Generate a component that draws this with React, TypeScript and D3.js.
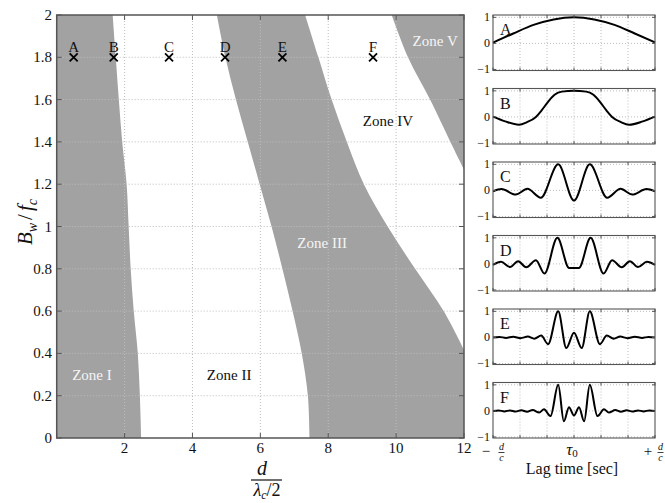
import React from 'react';
import * as d3 from 'd3';

// ---------- main chart data ----------
const bandwidthLevels = [0, 0.2, 0.4, 0.6, 0.8, 1.0, 1.2, 1.4, 1.6, 1.8, 2.0];
const zone1Edge = [2.49, 2.45, 2.39, 2.27, 2.18, 2.12, 2.06, 1.93, 1.83, 1.74, 1.65];
const zone3LeftEdge = [7.45, 7.4, 7.22, 6.95, 6.65, 6.33, 5.98, 5.63, 5.28, 4.97, 4.72];
const zone3RightB = [0.416, 0.6, 0.8, 1.0, 1.2, 1.4, 1.6, 1.8, 2.0];
const zone3RightEdge = [12, 11.4, 10.56, 9.75, 9.05, 8.55, 8.1, 7.71, 7.32];
const zone5B = [1.27, 1.4, 1.6, 1.8, 2.0];
const zone5Edge = [12, 11.6, 11.0, 10.35, 9.87];

const markerLabels = ['A', 'B', 'C', 'D', 'E', 'F'];
const markerD = [0.5, 1.68, 3.31, 4.96, 6.65, 9.32];
const markerB = 1.8;

const zoneNames = ['Zone I', 'Zone II', 'Zone III', 'Zone IV', 'Zone V'];
const zoneNameD = [1.04, 5.08, 7.82, 9.76, 11.15];
const zoneNameB = [0.274, 0.274, 0.898, 1.475, 1.853];
const zoneNameOnGray = [true, false, true, false, true];

const xTickValues = [0, 2, 4, 6, 8, 10, 12];
const xTickLabels = ['', '2', '4', '6', '8', '10', '12'];
const yTickValues = [0, 0.2, 0.4, 0.6, 0.8, 1.0, 1.2, 1.4, 1.6, 1.8, 2.0];
const yTickLabels = ['0', '0.2', '0.4', '0.6', '0.8', '1', '1.2', '1.4', '1.6', '1.8', '2'];

// ---------- correlation panels data (lag t in [-1,1], extrema) ----------
const corrA: [number, number][] = [
  [-1, 0.03], [-0.75, 0.38], [-0.5, 0.71], [-0.25, 0.92], [0, 1], [0.25, 0.92], [0.5, 0.71], [0.75, 0.38], [1, 0.04],
];
const corrB: [number, number][] = [
  [-1, 0.01], [-0.85, -0.17], [-0.68, -0.3], [-0.58, -0.2], [-0.47, 0], [-0.4, 0.25], [-0.32, 0.58], [-0.24, 0.85],
  [-0.15, 0.97], [0, 1.0], [0.15, 0.97], [0.24, 0.85], [0.32, 0.58], [0.4, 0.25], [0.47, 0], [0.58, -0.2],
  [0.68, -0.3], [0.85, -0.17], [1, 0.01],
];
const corrC: [number, number][] = [
  [-1, -0.04], [-0.895, 0.05], [-0.72, -0.16], [-0.575, 0.06], [-0.41, -0.28], [-0.195, 1.0], [0, -0.39],
  [0.195, 1.0], [0.41, -0.28], [0.575, 0.06], [0.72, -0.16], [0.895, 0.05], [1, -0.04],
];
const corrD: [number, number][] = [
  [-1, -0.04], [-0.9, 0.08], [-0.79, -0.12], [-0.69, 0.1], [-0.59, -0.13], [-0.47, 0.14], [-0.365, -0.37],
  [-0.205, 1.0], [-0.06, -0.16], [0, -0.16], [0.06, -0.16], [0.205, 1.0], [0.365, -0.37], [0.47, 0.14],
  [0.59, -0.13], [0.69, 0.1], [0.79, -0.12], [0.9, 0.08], [1, -0.04],
];
const corrE: [number, number][] = [
  [-1, 0], [-0.92, 0.02], [-0.84, -0.02], [-0.75, 0.025], [-0.66, -0.03], [-0.57, 0.03], [-0.49, -0.05],
  [-0.405, 0.07], [-0.32, -0.26], [-0.195, 1.0], [-0.095, -0.41], [0, 0.18], [0.095, -0.41], [0.195, 1.0],
  [0.32, -0.26], [0.405, 0.07], [0.49, -0.05], [0.57, 0.03], [0.66, -0.03], [0.75, 0.025], [0.84, -0.02],
  [0.92, 0.02], [1, 0],
];
const corrF: [number, number][] = [
  [-1, 0], [-0.93, 0.02], [-0.86, -0.02], [-0.79, 0.02], [-0.72, -0.025], [-0.65, 0.025], [-0.58, -0.03],
  [-0.51, 0.03], [-0.43, -0.06], [-0.37, 0.06], [-0.29, -0.2], [-0.195, 1.0], [-0.125, -0.4], [-0.062, 0.14],
  [0, -0.18], [0.062, 0.14], [0.125, -0.4], [0.195, 1.0], [0.29, -0.2], [0.37, 0.06], [0.43, -0.06],
  [0.51, 0.03], [0.58, -0.03], [0.65, 0.025], [0.72, -0.025], [0.79, 0.02], [0.86, -0.02], [0.93, 0.02], [1, 0],
];
const panelNames = ['A', 'B', 'C', 'D', 'E', 'F'];
const panelCurves = [corrA, corrB, corrC, corrD, corrE, corrF];
const lagTicks = [-1, -2 / 3, -1 / 3, 0, 1 / 3, 2 / 3, 1];
const corrTicks = [-1, 0, 1];
const corrTickLabels = ['\u22121', '0', '1'];

const FONT = '"Liberation Serif", "DejaVu Serif", serif';
const GRAY = '#a2a2a2';
const AXIS = '#555';
const GRID = '#bdbdbd';

export default function App() {
  const x = d3.scaleLinear().domain([0, 12]).range([56.7, 464]);
  const y = d3.scaleLinear().domain([0, 2]).range([438, 15]);
  const edge = d3
    .line<[number, number]>()
    .x((p) => x(p[0]))
    .y((p) => y(p[1]))
    .curve(d3.curveCatmullRom);

  const z1 = bandwidthLevels.map((b, i) => [zone1Edge[i], b] as [number, number]);
  const z3L = bandwidthLevels.map((b, i) => [zone3LeftEdge[i], b] as [number, number]);
  const z3R = zone3RightB.map((b, i) => [zone3RightEdge[i], b] as [number, number]).reverse();
  const z5 = zone5B.map((b, i) => [zone5Edge[i], b] as [number, number]).reverse();

  const zone1Path = `${edge(z1)}L${x(0)},${y(2)}L${x(0)},${y(0)}Z`;
  const zone3Path = `${edge(z3L)}${(edge(z3R) || '').replace(/^M/, 'L')}L${x(12)},${y(0)}Z`;
  const zone5Path = `${edge(z5)}L${x(12)},${y(2)}Z`;

  const [x0, x1] = x.range();
  const [yb, yt] = y.range();

  // panels
  const px = d3.scaleLinear().domain([-1, 1]).range([493, 655]);
  const panelTop = (i: number) => 15 + i * 73.5;
  const panelH = 55.5;

  return (
    <svg
      width={665}
      height={503}
      style={{ position: 'absolute', left: 0, top: 0, background: '#fff', fontFamily: FONT }}
    >
      <defs>
        <clipPath id="plotClip">
          <rect x={x0} y={yt} width={x1 - x0} height={yb - yt} />
        </clipPath>
      </defs>
      <rect x={0} y={0} width={665} height={503} fill="#fff" />

      {/* zones */}
      <g clipPath="url(#plotClip)">
        <path d={zone1Path} fill={GRAY} />
        <path d={zone3Path} fill={GRAY} />
        <path d={zone5Path} fill={GRAY} />
      </g>

      {/* grid */}
      <g stroke={GRID} strokeWidth={1} strokeDasharray="1,2">
        {xTickValues.slice(1, -1).map((v) => (
          <line key={'gx' + v} x1={x(v)} x2={x(v)} y1={yt} y2={yb} />
        ))}
        {yTickValues.slice(1, -1).map((v) => (
          <line key={'gy' + v} x1={x0} x2={x1} y1={y(v)} y2={y(v)} />
        ))}
      </g>

      {/* zone names */}
      {zoneNames.map((n, i) => (
        <text
          key={n}
          x={x(zoneNameD[i])}
          y={y(zoneNameB[i])}
          textAnchor="middle"
          fontSize={15}
          fill={zoneNameOnGray[i] ? '#f5f5f5' : '#111'}
        >
          {n}
        </text>
      ))}

      {/* markers */}
      {markerLabels.map((m, i) => {
        const cx = x(markerD[i]);
        const cy = y(markerB);
        return (
          <g key={m}>
            <path
              d={`M${cx - 4},${cy - 4}L${cx + 4},${cy + 4}M${cx - 4},${cy + 4}L${cx + 4},${cy - 4}`}
              stroke="#000"
              strokeWidth={1.8}
            />
            <text x={cx} y={cy - 5} textAnchor="middle" fontSize={15} fill="#111">
              {m}
            </text>
          </g>
        );
      })}

      {/* axes box & ticks */}
      <rect x={x0} y={yt} width={x1 - x0} height={yb - yt} fill="none" stroke={AXIS} strokeWidth={1.5} />
      <g stroke={AXIS} strokeWidth={1}>
        {xTickValues.map((v) => (
          <g key={'tx' + v}>
            <line x1={x(v)} x2={x(v)} y1={yb} y2={yb - 5} />
            <line x1={x(v)} x2={x(v)} y1={yt} y2={yt + 5} />
          </g>
        ))}
        {yTickValues.map((v) => (
          <g key={'ty' + v}>
            <line x1={x0} x2={x0 + 5} y1={y(v)} y2={y(v)} />
            <line x1={x1} x2={x1 - 5} y1={y(v)} y2={y(v)} />
          </g>
        ))}
      </g>
      {xTickValues.map((v, i) => (
        <text key={'lx' + v} x={x(v)} y={453} textAnchor="middle" fontSize={15} fill="#111">
          {xTickLabels[i]}
        </text>
      ))}
      {yTickValues.map((v, i) => (
        <text key={'ly' + v} x={52} y={y(v) + 5} textAnchor="end" fontSize={15} fill="#111">
          {yTickLabels[i]}
        </text>
      ))}

      {/* y label */}
      <text transform="translate(32,222) rotate(-90)" textAnchor="middle" fontSize={21} fill="#111">
        <tspan fontStyle="italic">B</tspan>
        <tspan fontStyle="italic" fontSize={14} dy={5}>w</tspan>
        <tspan dy={-5} dx={3}>/</tspan>
        <tspan fontStyle="italic" dx={3}>f</tspan>
        <tspan fontStyle="italic" fontSize={14} dy={5}>c</tspan>
      </text>

      {/* x label: d / (lambda_c/2) */}
      <text x={262} y={475} textAnchor="middle" fontSize={20} fontStyle="italic" fill="#111">
        d
      </text>
      <line x1={251} x2={282} y1={480} y2={480} stroke="#111" strokeWidth={1.2} />
      <text x={267} y={496} textAnchor="middle" fontSize={18} fill="#111">
        <tspan fontStyle="italic">λ</tspan>
        <tspan fontStyle="italic" fontSize={12} dy={3}>c</tspan>
        <tspan dy={-3}>/2</tspan>
      </text>

      {/* correlation panels */}
      {panelCurves.map((curve, i) => {
        const top = panelTop(i);
        const py = d3.scaleLinear().domain([-1.04, 1.09]).range([top + panelH, top]);
        const ln = d3
          .line<[number, number]>()
          .x((p) => px(p[0]))
          .y((p) => py(p[1]))
          .curve(d3.curveMonotoneX);
        const [pl, pr] = px.range();
        return (
          <g key={'panel' + i}>
            <g stroke={GRID} strokeWidth={1} strokeDasharray="1,2">
              {lagTicks.slice(1, -1).map((t) => (
                <line key={'pg' + t} x1={px(t)} x2={px(t)} y1={top} y2={top + panelH} />
              ))}
              {corrTicks.map((c) => (
                <line key={'ph' + c} x1={pl} x2={pr} y1={py(c)} y2={py(c)} />
              ))}
            </g>
            <path d={ln(curve) || ''} fill="none" stroke="#000" strokeWidth={2} />
            <rect x={pl} y={top} width={pr - pl} height={panelH} fill="none" stroke={AXIS} strokeWidth={1.1} />
            <g stroke={AXIS} strokeWidth={1}>
              {lagTicks.map((t) => (
                <g key={'pt' + t}>
                  <line x1={px(t)} x2={px(t)} y1={top + panelH} y2={top + panelH - 3} />
                  <line x1={px(t)} x2={px(t)} y1={top} y2={top + 3} />
                </g>
              ))}
              {corrTicks.map((c) => (
                <g key={'pc' + c}>
                  <line x1={pl} x2={pl + 3} y1={py(c)} y2={py(c)} />
                  <line x1={pr} x2={pr - 3} y1={py(c)} y2={py(c)} />
                </g>
              ))}
            </g>
            {corrTicks.map((c, k) => (
              <text key={'pcl' + c} x={490} y={py(c) + 4} textAnchor="end" fontSize={12} fill="#111">
                {corrTickLabels[k]}
              </text>
            ))}
            <text x={500} y={top + 20} fontSize={16} fill="#111">
              {panelNames[i]}
            </text>
          </g>
        );
      })}

      {/* lag axis labels on bottom panel */}
      <text x={486} y={456} textAnchor="middle" fontSize={15} fill="#111">−</text>
      <text x={501.5} y={450} textAnchor="middle" fontSize={10} fontStyle="italic" fill="#111">d</text>
      <line x1={498.5} x2={504.5} y1={452.5} y2={452.5} stroke="#111" strokeWidth={0.8} />
      <text x={501.5} y={461} textAnchor="middle" fontSize={10} fontStyle="italic" fill="#111">c</text>

      <text x={572} y={455} textAnchor="middle" fontSize={17} fill="#111">
        <tspan fontStyle="italic">τ</tspan>
        <tspan fontSize={11} dy={2}>0</tspan>
      </text>

      <text x={648} y={456} textAnchor="middle" fontSize={15} fill="#111">+</text>
      <text x={660.5} y={450} textAnchor="middle" fontSize={10} fontStyle="italic" fill="#111">d</text>
      <line x1={657.5} x2={663.5} y1={452.5} y2={452.5} stroke="#111" strokeWidth={0.8} />
      <text x={660.5} y={461} textAnchor="middle" fontSize={10} fontStyle="italic" fill="#111">c</text>

      <text x={572} y={474} textAnchor="middle" fontSize={16} fill="#111">
        Lag time [sec]
      </text>
    </svg>
  );
}
